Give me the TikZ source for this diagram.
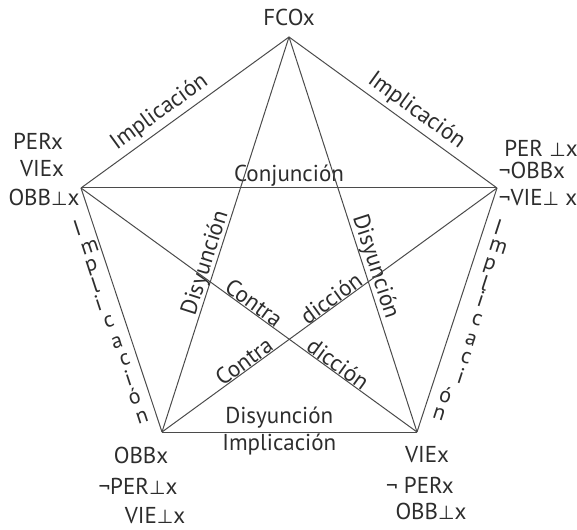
\documentclass[tikz,border=0pt]{standalone}
\usepackage{fontspec}
\setmainfont{PT Sans}
\newfontfamily\botfont{DejaVu Sans}
\usetikzlibrary{calc}
\definecolor{inkgray}{RGB}{45,45,45}
\definecolor{linegray}{RGB}{75,75,75}
\newcommand{\falsum}{{\botfont\fontsize{19}{22}\selectfont ⊥}}

\begin{document}
\begin{tikzpicture}[x=1pt, y=-1pt,
    lbl/.style={font=\fontsize{23}{26}\selectfont, text=inkgray, inner sep=1pt},
    letter/.style={font=\fontsize{22}{24}\selectfont, text=inkgray, inner sep=0pt},
    edge/.style={draw=linegray, line width=1pt}]

    \useasboundingbox (0,0) rectangle (577,529);

    % Corners of the pentagon
    \coordinate (T)  at (289,37);
    \coordinate (L)  at (81,188);
    \coordinate (R)  at (497,188);
    \coordinate (BL) at (162,432);
    \coordinate (BR) at (417,432);

    % Sides
    \draw[edge] (L) -- node[lbl, sloped, above=3pt, pos=0.42] {Implicación} (T);
    \draw[edge] (T) -- node[lbl, sloped, above=3pt, pos=0.57] {Implicación} (R);
    \draw[edge] (L) -- (BL);
    \draw[edge] (R) -- (BR);
    \draw[edge] (BL) -- node[lbl, above=2pt, pos=0.46] {Disyunción}
                        node[lbl, below=0pt, pos=0.46] {Implicación} (BR);

    % Diagonals
    \draw[edge] (L) -- node[lbl, above=0pt, pos=0.5] {Conjunción} (R);
    \draw[edge] (BL) -- node[lbl, sloped, above=-2pt, pos=0.42] {Disyunción} (T);
    \draw[edge] (T) -- node[lbl, sloped, above=-1pt, pos=0.59] {Disyunción} (BR);
    \draw[edge] (L) -- node[lbl, sloped, above=-1pt, pos=0.5] {Contra}
                       node[lbl, sloped, above=-1pt, pos=0.75] {dicción} (BR);
    \draw[edge] (BL) -- node[lbl, sloped, above=-1pt, pos=0.26] {Contra}
                        node[lbl, sloped, above=-1pt, pos=0.52] {dicción} (R);

    % Spaced letters beside the lower sides
    \foreach \x/\y/\c in {77/228/I, 90/247/m, 92/267/p, 95/285/l, 98/303/i,
                          109/322/c, 117/343/a, 125/360/c, 128/378/i, 134/396/ó, 142/417/n}
        \node[letter, rotate=18] at (\x,\y) {\c};
    \foreach \x/\y/\c in {498/227/I, 498/247/m, 489/266/p, 485/283/l, 481/299/i,
                          477/320/c, 471/340/a, 466/358/c, 461/376/i, 446/395/ó, 439/414/n}
        \node[letter, rotate=-18] at (\x,\y) {\c};

    % Top
    \node[lbl] (fco) at (289,17) {FCOx};

    % Left corner
    \node[lbl] (lper) at (38,141) {PERx};
    \node[lbl] (lvie) at (42,169) {VIEx};
    \node[lbl] (lobb) at (44,197) {OBB\falsum x};

    % Right corner
    \node[lbl] (rper) at (541,148) {PER \falsum x};
    \node[lbl] (robb) at (532,170) {¬OBBx};
    \node[lbl] (rvie) at (538,198) {¬VIE\falsum\ x};

    % Bottom left corner
    \node[lbl] (blobb) at (141,455) {OBBx};
    \node[lbl] (blper) at (138,486) {¬PER\falsum x};
    \node[lbl] (blvie) at (155,516) {VIE\falsum x};

    % Bottom right corner
    \node[lbl] (brvie) at (427,455) {VIEx};
    \node[lbl] (brper) at (420,485) {¬ PERx};
    \node[lbl] (brobb) at (431,511) {OBB\falsum x};
\end{tikzpicture}
\end{document}
